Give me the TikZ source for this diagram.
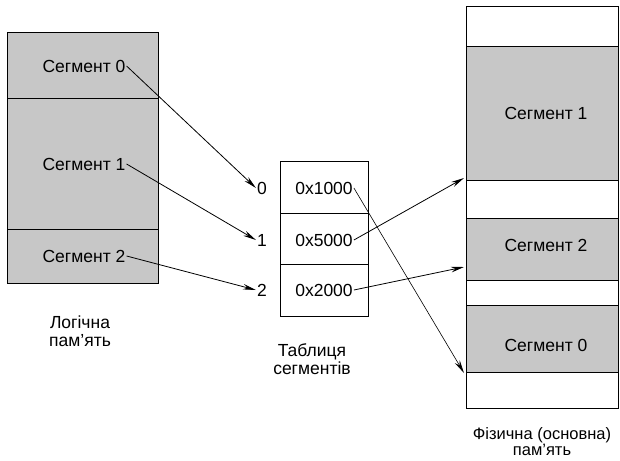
\documentclass[tikz,border=0pt]{standalone}
\usepackage{fontspec}
\setmainfont{Liberation Sans}
\usetikzlibrary{arrows.meta}
\begin{document}
\begin{tikzpicture}[x=1pt,y=-1pt,
  seg/.style={draw=black, line width=1pt, fill=black!22},
  free/.style={draw=black, line width=1pt, fill=white},
  cell/.style={draw=black, line width=1pt, fill=white},
  txt/.style={font=\fontsize{17.5}{18}\selectfont, inner sep=1pt},
  arr/.style={line width=0.8pt, -{Stealth[length=13pt,width=5.5pt]}},
  ln/.style={line width=0.6pt, -{Stealth[length=13pt,width=5.5pt]}}]
\useasboundingbox (0,0) rectangle (620,460);
% logical memory
\draw[seg] (7,33) rectangle (158,98);
\draw[seg] (7,98) rectangle (158,229);
\draw[seg] (7,229) rectangle (158,283);
\node[txt] (l0) at (84,66) {Сегмент 0};
\node[txt] (l1) at (84,164) {Сегмент 1};
\node[txt] (l2) at (84,256) {Сегмент 2};
\node[txt, align=center] (llab) at (80,331) {Логічна\\пам'ять};
% table
\draw[cell] (280,161) rectangle (368,213);
\draw[cell] (280,213) rectangle (368,264);
\draw[cell] (280,264) rectangle (368,316);
\node[txt] (v0) at (324,188) {0x1000};
\node[txt] (v1) at (324,240) {0x5000};
\node[txt] (v2) at (324,290) {0x2000};
\node[txt] (i0) at (262,188) {0};
\node[txt] (i1) at (262,240) {1};
\node[txt] (i2) at (262,290) {2};
\node[txt, align=center] (tlab) at (312,359) {Таблиця\\сегментів};
% physical memory
\draw[free] (466,7) rectangle (618,47);
\draw[seg] (466,47) rectangle (618,180);
\draw[free] (466,180) rectangle (618,218);
\draw[seg] (466,218) rectangle (618,280);
\draw[free] (466,280) rectangle (618,305);
\draw[seg] (466,305) rectangle (618,372);
\draw[free] (466,372) rectangle (618,408);
\node[txt] (p1) at (546,113) {Сегмент 1};
\node[txt] (p2) at (546,245) {Сегмент 2};
\node[txt] (p0) at (546,345) {Сегмент 0};
\node[txt, align=center, font=\fontsize{16.5}{16}\selectfont] (plab) at (542,442) {Фізична (основна)\\пам'ять};
\coordinate (t1) at (464,178);
\coordinate (t2) at (464,267);
\coordinate (t0) at (464,373);
% arrows
\draw[arr] (l0.east) -- (i0.west);
\draw[arr] (l1.east) -- (i1.west);
\draw[arr] (l2.east) -- (i2.west);
\draw[arr] (v1.east) -- (t1);
\draw[arr] (v2.east) -- (t2);
\draw[ln] (v0.east) -- (t0);
\end{tikzpicture}
\end{document}
